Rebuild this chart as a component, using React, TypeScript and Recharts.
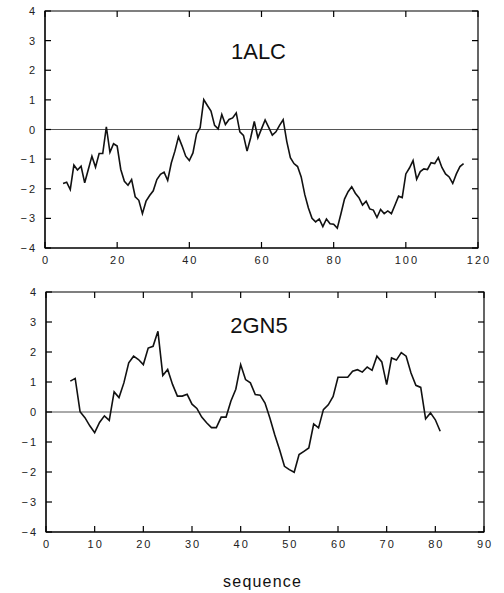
import { LineChart, Line, XAxis, YAxis, ReferenceLine, ReferenceArea } from 'recharts';

// ── Data ───────────────────────────────────────────

// hydropathy profile, 1ALC, residues 5..116
const alcStart = 5;
const alcValues = [
  -1.82, -1.78, -2.03, -1.2, -1.37, -1.24, -1.8, -1.35, -0.9, -1.27,
  -0.81, -0.81, 0.09, -0.77, -0.48, -0.56, -1.35, -1.75, -1.88, -1.69,
  -2.27, -2.39, -2.84, -2.42, -2.23, -2.07, -1.69, -1.51, -1.44, -1.72,
  -1.13, -0.73, -0.25, -0.56, -0.9, -1.05, -0.79, -0.15, 0.06, 1.01,
  0.81, 0.62, 0.14, 0.02, 0.51, 0.17, 0.34, 0.39, 0.56, -0.08,
  -0.2, -0.73, -0.28, 0.27, -0.28, 0.02, 0.32, 0.07, -0.19, -0.08,
  0.14, 0.33, -0.4, -0.95, -1.15, -1.25, -1.6, -2.2, -2.65, -3.0,
  -3.12, -3.02, -3.28, -3.02, -3.18, -3.2, -3.33, -2.85, -2.35, -2.1,
  -1.93, -2.15, -2.3, -2.55, -2.42, -2.68, -2.72, -2.97, -2.7, -2.84,
  -2.75, -2.84, -2.55, -2.25, -2.3, -1.5, -1.3, -1.05, -1.68, -1.42,
  -1.33, -1.35, -1.12, -1.15, -0.95, -1.28, -1.5, -1.6, -1.82, -1.5,
  -1.25, -1.15,
];
const alcTicks = [0, 20, 40, 60, 80, 100, 120];

// hydropathy profile, 2GN5, residues 5..81
const gnStart = 5;
const gnValues = [
  1.03, 1.12, 0.01, -0.19, -0.46, -0.69, -0.35, -0.13, -0.28, 0.67,
  0.48, 0.97, 1.64, 1.86, 1.75, 1.58, 2.13, 2.19, 2.69, 1.22,
  1.42, 0.92, 0.53, 0.53, 0.59, 0.26, 0.12, -0.17, -0.36, -0.52,
  -0.52, -0.17, -0.17, 0.37, 0.76, 1.58, 1.08, 0.97, 0.58, 0.56,
  0.3, -0.2, -0.76, -1.26, -1.81, -1.92, -2.01, -1.42, -1.31, -1.2,
  -0.4, -0.53, 0.08, 0.24, 0.52, 1.16, 1.16, 1.16, 1.36, 1.41,
  1.33, 1.5, 1.39, 1.86, 1.67, 0.91, 1.8, 1.73, 1.98, 1.86,
  1.3, 0.89, 0.82, -0.23, -0.03, -0.26, -0.64,
];
const gnTicks = [0, 10, 20, 30, 40, 50, 60, 70, 80, 90];

const yTicks = [-4, -3, -2, -1, 0, 1, 2, 3, 4];

// ── Style ──────────────────────────────────────────

const AXIS = 'black';
const FONT = '"Liberation Sans", Arial, Helvetica, sans-serif';
const tickText = { fontFamily: FONT, fontSize: 11, letterSpacing: 2, fill: '#222' };
const CHART_W = 504;
const CHART_H = 270;
const TICK_LEN = 6;

const fmtY = (v: number) => (v < 0 ? `−${Math.abs(v)}` : `${v}`);

// ── Ticks (inward, mirrored on the opposite side of the frame) ──

function BottomTick({ x, y, payload, plotH }: any) {
  const top = y - plotH;
  return (
    <g>
      <line x1={x} y1={y} x2={x} y2={y - TICK_LEN} stroke={AXIS} strokeWidth={1.2} />
      <line x1={x} y1={top} x2={x} y2={top + TICK_LEN} stroke={AXIS} strokeWidth={1.2} />
      <text x={x + 1} y={y + 16} textAnchor="middle" style={tickText}>
        {payload.value}
      </text>
    </g>
  );
}

function LeftTick({ x, y, payload, plotW }: any) {
  const right = x + plotW;
  return (
    <g>
      <line x1={x} y1={y} x2={x + TICK_LEN} y2={y} stroke={AXIS} strokeWidth={1.2} />
      <line x1={right} y1={y} x2={right - TICK_LEN} y2={y} stroke={AXIS} strokeWidth={1.2} />
      <text x={x - 8} y={y + 4} textAnchor="end" style={tickText}>
        {fmtY(payload.value)}
      </text>
    </g>
  );
}

// ── Panel ──────────────────────────────────────────

interface PanelProps {
  start: number;
  values: number[];
  ticks: number[];
  marginTop: number;
  marginRight: number;
  yWidth: number;
  xHeight: number;
}

function Panel({ start, values, ticks, marginTop, marginRight, yWidth, xHeight }: PanelProps) {
  const data = values.map((v, i) => ({ x: start + i, v }));
  const domain: [number, number] = [ticks[0], ticks[ticks.length - 1]];
  const plotH = CHART_H - marginTop - xHeight;
  const plotW = CHART_W - yWidth - marginRight;
  return (
    <LineChart
      width={CHART_W}
      height={CHART_H}
      data={data}
      margin={{ top: marginTop, right: marginRight, bottom: 0, left: 0 }}
    >
      <XAxis
        dataKey="x"
        type="number"
        domain={domain}
        ticks={ticks}
        interval={0}
        height={xHeight}
        tickSize={0}
        tickMargin={0}
        stroke={AXIS}
        tick={(p: any) => <BottomTick {...p} plotH={plotH} />}
      />
      <YAxis
        type="number"
        domain={[-4, 4]}
        ticks={yTicks}
        interval={0}
        width={yWidth}
        tickSize={0}
        tickMargin={0}
        stroke={AXIS}
        tick={(p: any) => <LeftTick {...p} plotW={plotW} />}
      />
      {/* plot frame */}
      <ReferenceArea
        x1={domain[0]}
        x2={domain[1]}
        y1={-4}
        y2={4}
        fill="none"
        stroke={AXIS}
        strokeWidth={1.2}
      />
      <ReferenceLine y={0} stroke="#555" strokeWidth={1} />
      <Line
        dataKey="v"
        type="linear"
        stroke="#111"
        strokeWidth={1.6}
        dot={false}
        isAnimationActive={false}
      />
    </LineChart>
  );
}

// ── App ────────────────────────────────────────────

const titleStyle = {
  position: 'absolute' as const,
  width: 504,
  textAlign: 'center' as const,
  fontFamily: FONT,
  color: '#111',
};

export default function App() {
  return (
    <div style={{ position: 'absolute', left: 0, top: 0, width: 504, height: 593, background: '#fff' }}>
      {/* titles sit under the (transparent) chart layers */}
      <div style={{ ...titleStyle, left: 6.5, top: 40.5, fontSize: 22, lineHeight: '22px' }}>1ALC</div>
      <div style={{ ...titleStyle, left: 7, top: 314.5, fontSize: 22, lineHeight: '22px' }}>2GN5</div>
      <div
        style={{
          ...titleStyle,
          left: 10.6,
          top: 573.5,
          fontSize: 16,
          lineHeight: '16px',
          letterSpacing: 1.2,
        }}
      >
        sequence
      </div>
      <Panel
        start={alcStart}
        values={alcValues}
        ticks={alcTicks}
        marginTop={11}
        marginRight={26}
        yWidth={45}
        xHeight={22}
      />
      <div style={{ height: 10 }} />
      <Panel
        start={gnStart}
        values={gnValues}
        ticks={gnTicks}
        marginTop={12}
        marginRight={20}
        yWidth={46}
        xHeight={18}
      />
    </div>
  );
}
